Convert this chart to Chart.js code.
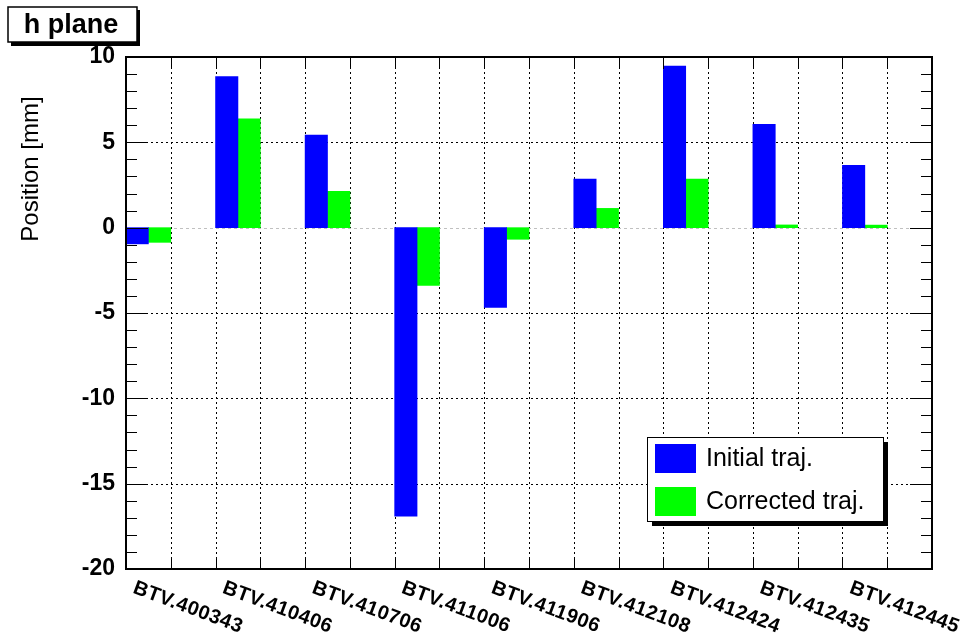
<!DOCTYPE html>
<html>
<head>
<meta charset="utf-8">
<script src="https://cdn.jsdelivr.net/npm/chart.js@4.4.0/dist/chart.umd.min.js"></script>
<style>
  html, body { margin: 0; padding: 0; background: #fff; }
</style>
</head>
<body>
<canvas id="chart" width="969" height="640"></canvas>
<script>
// Données
const categories = ['BTV.400343', 'BTV.410406', 'BTV.410706', 'BTV.411006', 'BTV.411906',
                    'BTV.412108', 'BTV.412424', 'BTV.412435', 'BTV.412445'];
const initialTraj = [-0.95, 8.85, 5.43, -16.9, -4.67, 2.85, 9.47, 6.06, 3.65];
const correctedTraj = [-0.86, 6.37, 2.13, -3.38, -0.68, 1.13, 2.85, 0.16, 0.15];
const yTicks = [10, 5, 0, -5, -10, -15, -20];
const legendLabels = ['Initial traj.', 'Corrected traj.'];
const seriesColors = ['#0000ff', '#00ff00'];

const FONT = "'Liberation Sans', Arial, Helvetica, sans-serif";

// chaque étiquette occupe deux cases : la case des barres puis une case vide
const binLabels = categories.flatMap(c => [c, '']);
const spread = vals => vals.flatMap(v => [v, null]);

const rootDecor = {
    id: 'rootDecor',
    beforeDatasetsDraw(chart) {
        const { ctx, chartArea: a, scales: { x, y } } = chart;
        ctx.save();
        ctx.lineWidth = 1;
        ctx.strokeStyle = '#000';
        ctx.setLineDash([2, 3]);
        //grille verticale aux bords des cases
        for (let i = 1; i < binLabels.length; i++) {
            const px = Math.round((x.getPixelForValue(i - 1) + x.getPixelForValue(i)) / 2) + 0.5;
            ctx.beginPath();
            ctx.moveTo(px, a.top);
            ctx.lineTo(px, a.bottom);
            ctx.stroke();
        }
        //grille horizontale
        yTicks.forEach(v => {
            if (v === 0 || v === y.min || v === y.max) return;
            const py = Math.round(y.getPixelForValue(v)) + 0.5;
            ctx.beginPath();
            ctx.moveTo(a.left, py);
            ctx.lineTo(a.right, py);
            ctx.stroke();
        });
        //ligne du zéro
        ctx.strokeStyle = '#c0c0c0';
        ctx.setLineDash([3, 3]);
        const py0 = Math.round(y.getPixelForValue(0)) + 0.5;
        ctx.beginPath();
        ctx.moveTo(a.left, py0);
        ctx.lineTo(a.right, py0);
        ctx.stroke();
        ctx.restore();
    },
    afterDatasetsDraw(chart) {
        const { ctx, chartArea: a, scales: { x, y } } = chart;
        ctx.save();
        ctx.strokeStyle = '#000';
        ctx.lineWidth = 1;
        //graduations haut / bas
        for (let i = 1; i < binLabels.length; i++) {
            const px = Math.round((x.getPixelForValue(i - 1) + x.getPixelForValue(i)) / 2) + 0.5;
            ctx.beginPath();
            ctx.moveTo(px, a.bottom); ctx.lineTo(px, a.bottom - 12);
            ctx.moveTo(px, a.top); ctx.lineTo(px, a.top + 12);
            ctx.stroke();
        }
        //graduations gauche / droite
        for (let v = y.min; v <= y.max; v++) {
            const py = Math.round(y.getPixelForValue(v)) + 0.5;
            const len = v % 5 === 0 ? 22 : 11;
            ctx.beginPath();
            ctx.moveTo(a.left, py); ctx.lineTo(a.left + len, py);
            ctx.moveTo(a.right, py); ctx.lineTo(a.right - len, py);
            ctx.stroke();
        }
        //cadre
        ctx.lineWidth = 2;
        ctx.strokeRect(a.left, a.top, a.right - a.left, a.bottom - a.top);

        //étiquettes inclinées
        ctx.fillStyle = '#000';
        ctx.font = 'bold 20px ' + FONT;
        ctx.letterSpacing = '0.5px';
        ctx.textAlign = 'left';
        ctx.textBaseline = 'top';
        binLabels.forEach((lab, i) => {
            if (!lab) return;
            const px = x.getPixelForValue(i) - 11;
            ctx.save();
            ctx.translate(px, a.bottom + 9);
            ctx.rotate(20.5 * Math.PI / 180);
            ctx.fillText(lab, 0, 0);
            ctx.restore();
        });
        ctx.letterSpacing = '0px';
        ctx.restore();
    },
    afterDraw(chart) {
        const { ctx } = chart;
        ctx.save();
        //titre "h plane"
        ctx.fillStyle = '#000';
        ctx.fillRect(11, 10, 129, 36);
        ctx.fillStyle = '#fff';
        ctx.fillRect(8, 7, 129, 35);
        ctx.strokeStyle = '#000';
        ctx.lineWidth = 1.5;
        ctx.strokeRect(8, 7, 129, 35);
        ctx.fillStyle = '#000';
        ctx.font = 'bold 27px ' + FONT;
        ctx.textAlign = 'center';
        ctx.textBaseline = 'middle';
        ctx.fillText('h plane', 71, 26);

        //titre axe Y
        ctx.save();
        ctx.translate(31, 169);
        ctx.rotate(-Math.PI / 2);
        ctx.font = '24px ' + FONT;
        ctx.fillText('Position [mm]', 0, 0);
        ctx.restore();

        //légende
        const lx = 647, ly = 437, lw = 236, lh = 84;
        ctx.fillStyle = '#000';
        ctx.fillRect(lx + 5, ly + 5, lw, lh);
        ctx.fillStyle = '#fff';
        ctx.fillRect(lx, ly, lw, lh);
        ctx.lineWidth = 1;
        ctx.strokeRect(lx + 0.5, ly + 0.5, lw, lh);
        ctx.font = '25px ' + FONT;
        ctx.textAlign = 'left';
        legendLabels.forEach((txt, i) => {
            const sy = ly + 7 + i * 43;
            ctx.fillStyle = seriesColors[i];
            ctx.fillRect(lx + 8, sy, 41, 29);
            ctx.fillStyle = '#000';
            ctx.fillText(txt, lx + 59, sy + 15);
        });
        ctx.restore();
    }
};

const ctx = document.getElementById('chart').getContext('2d');
const chart = new Chart(ctx, {
    type: 'bar',
    data: {
        labels: binLabels,
        datasets: [
            { label: legendLabels[0], data: spread(initialTraj), backgroundColor: seriesColors[0],
              categoryPercentage: 1, barPercentage: 1 },
            { label: legendLabels[1], data: spread(correctedTraj), backgroundColor: seriesColors[1],
              categoryPercentage: 1, barPercentage: 1 }
        ]
    },
    options: {
        responsive: false,
        animation: false,
        layout: { padding: { top: 57, right: 37, left: 0, bottom: 0 } },
        plugins: { legend: { display: false }, tooltip: { enabled: false } },
        scales: {
            x: {
                offset: true,
                grid: { display: false, drawTicks: false },
                border: { display: false },
                ticks: { display: false },
                afterFit: s => { s.height = 71; }
            },
            y: {
                min: -20,
                max: 10,
                ticks: { stepSize: 5, color: '#000', padding: 11,
                         font: { family: FONT, size: 23, weight: 'bold' } },
                grid: { display: false, drawTicks: false },
                border: { display: false },
                afterFit: s => { s.width = 126; }
            }
        }
    },
    plugins: [rootDecor]
});
</script>
</body>
</html>
